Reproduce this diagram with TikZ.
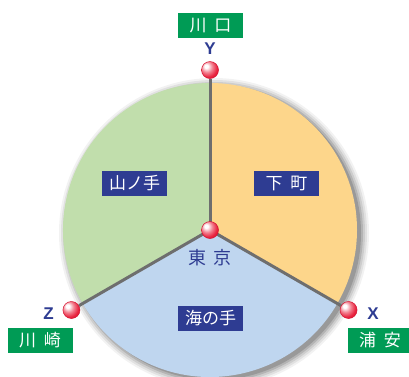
\documentclass[tikz,border=0pt]{standalone}
\usepackage{fontspec}
\newfontfamily\jp{Noto Sans CJK JP}
\setsansfont{Liberation Sans}
\definecolor{secOrange}{HTML}{FDD68B}
\definecolor{secGreen}{HTML}{C1DEAC}
\definecolor{secBlue}{HTML}{BFD6EF}
\definecolor{boxBlue}{HTML}{2E3C92}
\definecolor{boxGreen}{HTML}{009B55}
\definecolor{lineGray}{HTML}{6E6E6E}
\definecolor{letterBlue}{HTML}{2E3C92}
\definecolor{ballA}{RGB}{242,130,145}
\definecolor{ballB}{RGB}{232,32,60}
\definecolor{ballC}{RGB}{212,18,48}
\definecolor{ballD}{RGB}{190,10,40}
\pgfdeclareradialshading{redball}{\pgfpoint{-12bp}{12bp}}{color(0bp)=(white); color(5bp)=(white); color(16bp)=(ballA); color(28bp)=(ballB); color(48bp)=(ballC); color(70bp)=(ballD)}
\begin{document}
\begin{tikzpicture}[x=1pt,y=-1pt,
  areabox/.style={fill=boxBlue,text=white,font=\jp\fontsize{17}{17}\selectfont,minimum width=65pt,minimum height=25pt,inner sep=0pt},
  placebox/.style={fill=boxGreen,text=white,font=\jp\fontsize{17}{17}\selectfont,minimum width=65pt,minimum height=25pt,inner sep=0pt},
  axislabel/.style={text=letterBlue,font=\sffamily\bfseries\fontsize{17}{17}\selectfont,inner sep=0pt},
  spoke/.style={draw=lineGray,line width=3pt},
  knob/.style={circle,minimum size=17pt,inner sep=0pt,shading=redball,draw=ballC,line width=0.5pt}
]
\useasboundingbox (0,0) rectangle (409,376);
\coordinate (O) at (210,230);
% shadow
\foreach \r/\op in {155/0.05,153/0.07,151/0.09,149/0.12,147/0.15}{
  \fill[black,opacity=\op] ([shift={(4,3)}]O) circle[radius=\r];
}
% sectors
\fill[secOrange] (O) -- ++(-90:147) arc[start angle=-90,end angle=30,radius=147] -- cycle;
\fill[secBlue] (O) -- ++(30:147) arc[start angle=30,end angle=150,radius=147] -- cycle;
\fill[secGreen] (O) -- ++(150:147) arc[start angle=150,end angle=270,radius=147] -- cycle;
% knobs
\path (O) ++(-90:160) coordinate (Yc);
\path (O) ++(30:160) coordinate (Xc);
\path (O) ++(150:160) coordinate (Zc);
\node[knob] (Y) at (Yc) {};
\node[knob] (X) at (Xc) {};
\node[knob] (Z) at (Zc) {};
\draw[spoke] (O) -- (Y);
\draw[spoke] (O) -- (X);
\draw[spoke] (O) -- (Z);
\node[knob] (C) at (O) {};
% labels
\node[areabox] (yamanote) at (134.5,183) {山ノ手};
\node[areabox] (shitamachi) at (286.5,183.5) {下\hspace{8pt}町};
\node[areabox] (uminote) at (210.5,318) {海の手};
\node[text=letterBlue,font=\jp\fontsize{18}{18}\selectfont,inner sep=0pt] (tokyo) at (210,258) {東\hspace{7pt}京};
\node[placebox] (kawaguchi) at (210.5,25.5) {川\hspace{8pt}口};
\node[placebox] (kawasaki) at (40,340) {川\hspace{8pt}崎};
\node[placebox] (urayasu) at (380,340.5) {浦\hspace{8pt}安};
\node[axislabel] (ylab) at (210,48.5) {Y};
\node[axislabel] (zlab) at (48.5,313.5) {Z};
\node[axislabel] (xlab) at (373,313.5) {X};
\end{tikzpicture}
\end{document}
